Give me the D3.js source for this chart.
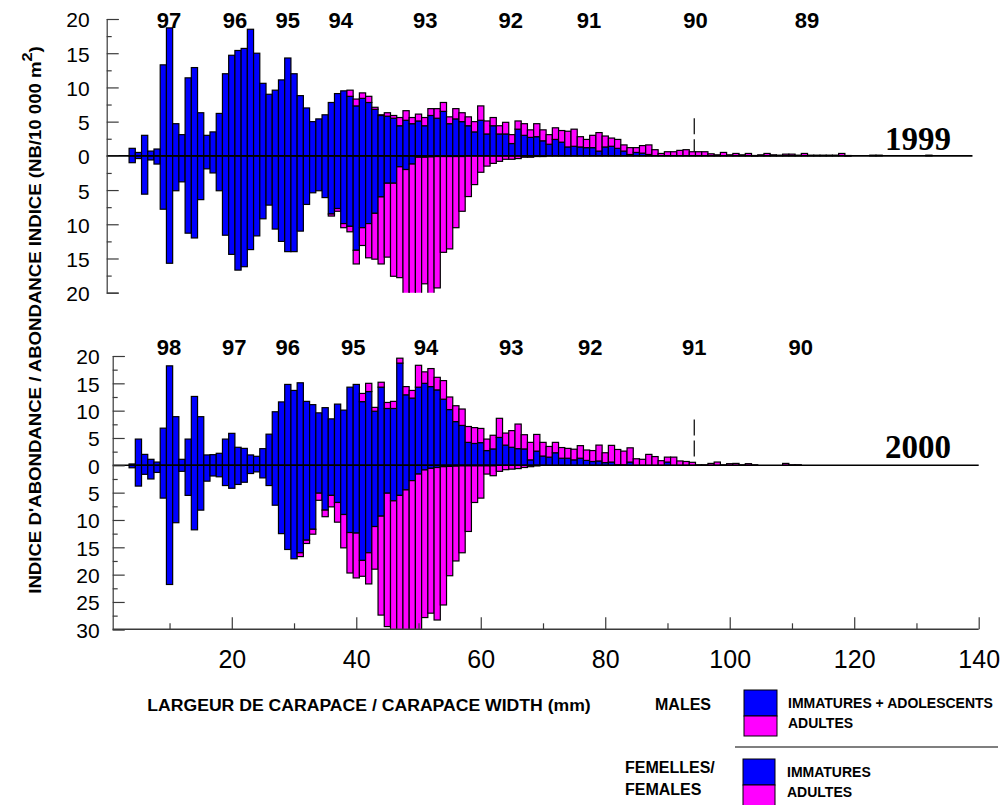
<!DOCTYPE html>
<html>
<head>
<meta charset="utf-8">
<script src="https://cdn.jsdelivr.net/npm/d3@7"></script>
<style>
  body { margin: 0; background: #fff; }
  svg { display: block; }
</style>
</head>
<body>
<svg id="chart" width="1004" height="805"></svg>
<script>
// Carapace width classes (mm), one bar per millimetre
const widths = d3.range(4, 133);

// ---- 1999 survey ----
const maleImm1999 = [
  1.1, 0.5, 3.0, 0.7, 1.0, 13.3, 18.7, 4.7, 3.1, 11.4,
  12.9, 6.3, 3.0, 3.5, 6.2, 12.0, 14.7, 15.4, 15.7, 18.5,
  15.0, 10.6, 9.0, 9.6, 11.1, 14.3, 12.0, 8.8, 7.0, 5.0,
  5.4, 6.0, 7.8, 9.1, 9.5, 8.7, 7.3, 8.4, 7.8, 6.8,
  5.9, 5.8, 5.5, 4.4, 5.2, 4.7, 5.1, 4.4, 5.9, 5.5,
  6.5, 4.7, 5.4, 5.0, 4.4, 3.5, 5.2, 3.2, 4.4, 3.2,
  3.2, 1.8, 3.9, 3.0, 2.7, 2.8, 2.2, 1.7, 2.4, 2.0,
  1.3, 1.4, 1.3, 1.2, 1.2, 0.7, 1.3, 1.4, 1.1, 0.7,
  0.2, 0.5, 0.4, 0.2, 0, 0, 0, 0, 0, 0,
  0, 0, 0, 0, 0, 0, 0, 0, 0, 0,
  0, 0, 0, 0, 0, 0, 0, 0, 0, 0,
  0, 0, 0, 0, 0, 0, 0, 0, 0, 0,
  0, 0, 0, 0, 0, 0, 0, 0, 0
];
const maleAdult1999 = [
  0, 0, 0, 0, 0, 0, 0, 0, 0, 0,
  0, 0, 0, 0, 0, 0, 0, 0, 0, 0,
  0, 0, 0, 0, 0, 0, 0, 0, 0, 0,
  0, 0, 0, 0, 0, 0.9, 1.0, 0.8, 0.9, 0.3,
  0.1, 0.5, 0.4, 1.2, 1.4, 0.9, 1.0, 1.2, 1.0, 1.4,
  1.3, 1.0, 1.5, 1.3, 1.3, 1.5, 2.1, 1.9, 1.2, 1.2,
  1.7, 1.3, 1.2, 1.7, 1.1, 1.9, 1.6, 1.4, 1.7, 1.7,
  2.3, 2.5, 1.5, 1.2, 1.8, 2.7, 1.6, 1.2, 1.3, 0.9,
  1.0, 0.7, 1.1, 1.4, 0.9, 0.35, 0.6, 0.6, 0.8, 0.9,
  0.6, 0.6, 0.6, 0.3, 0.15, 0.5, 0.15, 0.35, 0.15, 0.35,
  0.05, 0.15, 0.35, 0.15, 0.1, 0.25, 0.25, 0.1, 0.35, 0.1,
  0.1, 0.1, 0.1, 0.1, 0.35, 0.05, 0, 0, 0, 0.1,
  0.1, 0, 0, 0, 0, 0, 0, 0, 0.1
];
const femImm1999 = [
  1.0, 0.4, 5.6, 0.6, 1.2, 7.8, 15.7, 5.1, 3.8, 11.3,
  12.0, 6.4, 1.9, 2.5, 5.1, 11.6, 14.4, 16.7, 16.2, 13.7,
  11.7, 9.2, 7.2, 10.7, 12.5, 14.0, 14.0, 11.0, 7.1, 5.4,
  5.1, 6.1, 8.5, 7.7, 9.9, 10.3, 13.8, 10.5, 9.9, 8.4,
  6.0, 4.0, 4.0, 1.6, 2.0, 1.2, 0.2, 0.2, 0.15, 0.1,
  0.1, 0.1, 0.1, 0.1, 0, 0, 0, 0, 0, 0,
  0, 0, 0, 0, 0, 0, 0, 0, 0, 0,
  0, 0, 0, 0, 0, 0, 0, 0, 0, 0,
  0, 0, 0, 0, 0, 0, 0, 0, 0, 0,
  0, 0, 0, 0, 0, 0, 0, 0, 0, 0,
  0, 0, 0, 0, 0, 0, 0, 0, 0, 0,
  0, 0, 0, 0, 0, 0, 0, 0, 0, 0,
  0, 0, 0, 0, 0, 0, 0, 0, 0
];
const femAdult1999 = [
  0, 0, 0, 0, 0, 0, 0, 0, 0, 0,
  0, 0, 0, 0, 0, 0, 0, 0, 0, 0,
  0, 0, 0, 0, 0, 0, 0, 0, 0, 0,
  0, 0, 0.3, 0.4, 0.6, 0.8, 2.0, 2.6, 5.0, 6.7,
  9.8, 10.8, 13.6, 16.2, 19.5, 20.8, 21.5, 18.5, 21.0, 19.2,
  14.0, 13.5, 10.4, 8.0, 5.95, 4.2, 2.4, 1.5, 1.1, 0.8,
  0.5, 0.5, 0.4, 0.2, 0.2, 0.1, 0.1, 0, 0, 0,
  0, 0, 0, 0, 0, 0, 0, 0, 0, 0,
  0, 0, 0, 0, 0, 0, 0, 0, 0, 0,
  0, 0, 0, 0, 0, 0, 0, 0, 0, 0,
  0, 0, 0, 0, 0, 0, 0, 0, 0, 0,
  0, 0, 0, 0, 0, 0, 0, 0, 0, 0,
  0, 0, 0, 0, 0, 0, 0, 0, 0
];

// ---- 2000 survey ----
const maleImm2000 = [
  0.25, 4.8, 2.0, 1.1, 0.6, 6.8, 18.2, 8.9, 1.1, 4.8,
  12.6, 8.9, 1.9, 1.95, 2.2, 4.8, 5.85, 3.3, 3.1, 1.9,
  1.65, 3.05, 5.7, 9.8, 11.6, 14.8, 13.7, 15.1, 11.7, 11.1,
  9.6, 10.55, 8.5, 11.2, 10.1, 14.3, 14.8, 11.65, 13.5, 9.9,
  14.3, 10.4, 10.4, 18.7, 12.9, 12.3, 14.3, 15.0, 14.4, 13.8,
  12.1, 10.2, 8.0, 7.3, 4.2, 4.0, 4.15, 2.7, 3.0, 5.1,
  3.7, 3.3, 3.05, 3.0, 1.0, 2.6, 1.7, 1.5, 2.3, 1.3,
  1.3, 1.0, 1.3, 0.9, 0.7, 0.8, 0.5, 0.6, 0.1, 0.1,
  0.6, 0, 0, 0, 0, 0, 0.6, 0, 0, 0,
  0, 0, 0, 0, 0, 0, 0, 0, 0, 0,
  0, 0, 0, 0, 0, 0, 0, 0, 0, 0,
  0, 0, 0, 0, 0, 0, 0, 0, 0, 0,
  0, 0, 0, 0, 0, 0, 0, 0, 0
];
const maleAdult2000 = [
  0, 0, 0, 0, 0, 0, 0, 0, 0, 0,
  0, 0, 0, 0, 0, 0, 0, 0, 0, 0,
  0, 0, 0, 0, 0, 0, 0, 0, 0, 0,
  0, 0, 0, 0, 0, 0, 0, 1.5, 1.5, 0.7,
  0.9, 1.1, 1.3, 0.9, 1.5, 1.4, 4.0, 2.1, 3.3, 2.3,
  3.4, 2.3, 2.9, 3.0, 2.9, 2.9, 2.6, 2.1, 2.5, 3.5,
  2.2, 3.05, 4.5, 2.6, 3.2, 3.05, 2.5, 1.95, 1.9, 1.95,
  1.8, 1.95, 2.3, 1.9, 2.0, 2.9, 1.8, 3.05, 2.8, 2.5,
  2.6, 1.2, 1.1, 2.0, 1.6, 0.85, 0.9, 1.5, 0.8, 0.7,
  0.55, 0.1, 0.1, 0.35, 0.6, 0.1, 0.3, 0.35, 0.1, 0.3,
  0.1, 0, 0, 0, 0, 0.35, 0.1, 0.1, 0, 0,
  0, 0, 0, 0, 0, 0, 0, 0, 0, 0,
  0, 0, 0, 0, 0, 0, 0, 0, 0
];
const femImm2000 = [
  0.45, 3.8, 1.65, 2.5, 1.3, 6.0, 21.8, 10.5, 1.1, 5.5,
  11.8, 8.2, 2.9, 1.95, 2.1, 3.7, 4.2, 3.5, 3.1, 1.5,
  1.2, 2.3, 3.7, 7.3, 12.5, 15.4, 17.1, 16.0, 13.7, 11.7,
  5.1, 8.2, 5.5, 6.8, 9.0, 12.3, 12.4, 17.4, 16.0, 11.2,
  9.3, 5.1, 6.5, 5.5, 4.5, 2.8, 1.6, 0.85, 0.55, 0.4,
  0.25, 0.2, 0.15, 0.1, 0.1, 0.1, 0.1, 0.1, 0.1, 0,
  0, 0, 0, 0, 0, 0, 0, 0, 0, 0,
  0, 0, 0, 0, 0, 0, 0, 0, 0, 0,
  0, 0, 0, 0, 0, 0, 0, 0, 0, 0,
  0, 0, 0, 0, 0, 0, 0, 0, 0, 0,
  0, 0, 0, 0, 0, 0, 0, 0, 0, 0,
  0, 0, 0, 0, 0, 0, 0, 0, 0, 0,
  0, 0, 0, 0, 0, 0, 0, 0, 0
];
const femAdult2000 = [
  0, 0, 0, 0, 0, 0, 0, 0, 0, 0,
  0, 0, 0, 0, 0, 0, 0, 0, 0, 0,
  0, 0, 0, 0, 0, 0, 0, 0.7, 0.6, 0.9,
  1.3, 1.2, 2.1, 3.6, 6.1, 7.4, 8.2, 2.9, 5.7, 7.8,
  18.1, 24.4, 25.0, 26.5, 28.0, 29.0, 29.5, 27.0, 26.5, 27.9,
  25.3, 20.0, 17.35, 15.9, 12.0, 6.7, 5.9, 1.5, 1.8, 1.1,
  0.8, 0.7, 0.6, 0.4, 0.25, 0.1, 0, 0, 0, 0,
  0, 0, 0, 0, 0, 0, 0, 0, 0, 0,
  0, 0, 0, 0, 0, 0, 0, 0, 0, 0,
  0, 0, 0, 0, 0, 0, 0, 0, 0, 0,
  0, 0, 0, 0, 0, 0, 0, 0, 0, 0,
  0, 0, 0, 0, 0, 0, 0, 0, 0, 0,
  0, 0, 0, 0, 0, 0, 0, 0, 0
];

// Year-class (cohort) modes, labelled above each panel
const cohortLabels1999 = ["97", "96", "95", "94", "93", "92", "91", "90", "89"];
const cohortModes1999  = [9.9, 20.5, 29.0, 37.5, 51.1, 64.8, 77.4, 94.5, 112.4];
const cohortLabels2000 = ["98", "97", "96", "95", "94", "93", "92", "91", "90"];
const cohortModes2000  = [9.9, 20.4, 29.0, 39.5, 51.2, 64.9, 77.6, 94.3, 111.4];

// Legal-size marker (mm) and its vertical extent in each panel
const legalSize = 94.3;
const markerSpan1999 = [0.6, 5.5];
const markerSpan2000 = [1.4, 8.4];

const xTicks = [10, 20, 30, 40, 50, 60, 70, 80, 90, 100, 110, 120, 130, 140];

const BLUE = "#0000ff", PINK = "#ff00ff";
const SANS = "'Liberation Sans', Arial, Helvetica, sans-serif";
const SERIF = "'Liberation Serif', 'Times New Roman', serif";

const svg = d3.select("#chart");
const x = d3.scaleLinear().domain([0, 140]).range([107.3, 978.7]);

const panels = [
  {
    id: "p1999", year: "1999",
    mi: maleImm1999, ma: maleAdult1999, fi: femImm1999, fa: femAdult1999,
    y: d3.scaleLinear().domain([-20, 20]).range([292.7, 19]),
    axisX: 106.7, labelPad: 17, zeroEnd: 139,
    cohorts: cohortLabels1999, modes: cohortModes1999, cohortY: 28,
    yearY: 150, marker: markerSpan1999
  },
  {
    id: "p2000", year: "2000",
    mi: maleImm2000, ma: maleAdult2000, fi: femImm2000, fa: femAdult2000,
    y: d3.scaleLinear().domain([-30, 20]).range([629.3, 356]),
    axisX: 112.7, labelPad: 13, zeroEnd: 140,
    cohorts: cohortLabels2000, modes: cohortModes2000, cohortY: 355,
    yearY: 458, marker: markerSpan2000
  }
];

panels.forEach(p => {
  const y = p.y;
  const [yLo, yHi] = y.domain();
  const g = svg.append("g");

  // clip region so bars beyond the axis limits are cut off
  svg.append("clipPath").attr("id", "clip-" + p.id)
    .append("rect")
    .attr("x", p.axisX).attr("y", y(yHi))
    .attr("width", x(140) - p.axisX).attr("height", y(yLo) - y(yHi));

  // stacked segments: males above zero, females below
  const segs = [];
  widths.forEach((w, i) => {
    const mi = p.mi[i], ma = p.ma[i], fi = p.fi[i], fa = p.fa[i];
    if (mi > 0) segs.push({ w, v0: 0, v1: mi, c: BLUE });
    if (ma > 0) segs.push({ w, v0: mi, v1: mi + ma, c: PINK });
    if (fi > 0) segs.push({ w, v0: -fi, v1: 0, c: BLUE });
    if (fa > 0) segs.push({ w, v0: -(fi + fa), v1: -fi, c: PINK });
  });

  g.append("g").attr("clip-path", `url(#clip-${p.id})`)
    .selectAll("rect").data(segs).join("rect")
    .attr("x", d => x(d.w - 0.5))
    .attr("width", d => x(d.w + 0.5) - x(d.w - 0.5))
    .attr("y", d => y(d.v1))
    .attr("height", d => Math.max(0.6, y(d.v0) - y(d.v1)))
    .attr("fill", d => d.c)
    .attr("stroke", "#000")
    .attr("stroke-width", 1.2);

  // zero line
  g.append("line")
    .attr("x1", p.axisX).attr("x2", x(p.zeroEnd))
    .attr("y1", y(0)).attr("y2", y(0))
    .attr("stroke", "#000").attr("stroke-width", 1.6);

  // legal-size dashed marker
  g.append("line")
    .attr("x1", x(legalSize)).attr("x2", x(legalSize))
    .attr("y1", y(p.marker[1])).attr("y2", y(p.marker[0]))
    .attr("stroke", "#000").attr("stroke-width", 1.2)
    .attr("stroke-dasharray", "16,5");

  // left axis: minor ticks every 2.5, labelled major ticks every 5
  const minor = d3.range(yLo, yHi + 0.01, 2.5).filter(v => v % 5 !== 0);
  const major = d3.range(yLo, yHi + 0.01, 5);
  const ax = g.append("g").attr("transform", `translate(${p.axisX},0)`);
  ax.call(d3.axisLeft(y).tickValues(minor).tickSize(-5).tickSizeOuter(-12).tickFormat(""));
  ax.append("g").call(d3.axisLeft(y).tickValues(major).tickSize(-12).tickSizeOuter(-12)
      .tickPadding(p.labelPad).tickFormat(d => Math.abs(d)))
    .call(a => a.select(".domain").remove());
  ax.selectAll("path,line").attr("stroke", "#3a3a3a").attr("stroke-width", 1.2);
  ax.selectAll("text")
    .attr("font-family", SANS).attr("font-size", 21).attr("fill", "#000")
    .attr("dy", "0.38em");

  // cohort labels
  g.selectAll("text.cohort").data(p.cohorts).join("text")
    .attr("class", "cohort")
    .attr("x", (d, i) => x(p.modes[i]))
    .attr("y", p.cohortY)
    .attr("text-anchor", "middle")
    .attr("font-family", SANS).attr("font-weight", "bold").attr("font-size", 22)
    .text(d => d);

  // survey year
  g.append("text")
    .attr("x", 951).attr("y", p.yearY)
    .attr("text-anchor", "end")
    .attr("font-family", SERIF).attr("font-weight", "bold").attr("font-size", 33)
    .text(p.year);
});

// bottom x axis (shared width scale)
const yBottom = panels[1].y(-30);
const xAxisG = svg.append("g").attr("transform", `translate(0,${yBottom})`);
xAxisG.call(d3.axisBottom(x).tickValues(xTicks)
    .tickSize(0).tickPadding(21)
    .tickFormat(d => d % 20 === 0 ? d : ""));
xAxisG.select(".domain").remove();
xAxisG.selectAll(".tick line")
  .attr("y2", d => d % 20 === 0 ? -12 : -6)
  .attr("stroke", "#3a3a3a").attr("stroke-width", 1.2);
xAxisG.selectAll("text")
  .attr("font-family", SANS).attr("font-size", 25).attr("fill", "#000");
xAxisG.append("line")
  .attr("x1", panels[1].axisX).attr("x2", x(140))
  .attr("y1", 0).attr("y2", 0)
  .attr("stroke", "#3a3a3a").attr("stroke-width", 1.4);

// horizontal stretch factor that brings a text node to a given length
function stretchTo(sel, len) {
  const w = sel.node().getBBox().width;
  return w > 0 ? len / w : 1;
}

// x axis title
const xTitle = svg.append("g");
const xt = xTitle.append("text")
  .attr("text-anchor", "middle")
  .attr("font-family", SANS).attr("font-weight", "bold").attr("font-size", 17)
  .text("LARGEUR DE CARAPACE / CARAPACE WIDTH (mm)");
xTitle.attr("transform", `translate(369,711) scale(${stretchTo(xt, 444)},1)`);

// y axis title (rotated, with squared metre superscript)
const yTitle = svg.append("g");
const yt = yTitle.append("text")
  .attr("text-anchor", "middle")
  .attr("font-family", SANS).attr("font-weight", "bold").attr("font-size", 16);
yt.append("tspan").text("INDICE D'ABONDANCE / ABONDANCE INDICE (NB/10 000 m");
yt.append("tspan").attr("dy", -9).attr("font-size", 14).text("2");
yt.append("tspan").attr("dy", 9).text(")");
yTitle.attr("transform", `translate(41,320) rotate(-90) scale(${stretchTo(yt, 548)},1)`);

// legend
const lg = svg.append("g").attr("font-family", SANS).attr("font-weight", "bold");
lg.append("text").attr("x", 655).attr("y", 710).attr("font-size", 16).text("MALES");
lg.append("rect").attr("x", 744).attr("y", 690).attr("width", 33).attr("height", 26)
  .attr("fill", BLUE).attr("stroke", "#000");
lg.append("rect").attr("x", 744).attr("y", 716).attr("width", 33).attr("height", 20)
  .attr("fill", PINK).attr("stroke", "#000");
lg.append("text").attr("x", 788).attr("y", 708).attr("font-size", 14).text("IMMATURES + ADOLESCENTS");
lg.append("text").attr("x", 788).attr("y", 728).attr("font-size", 14).text("ADULTES");
lg.append("line").attr("x1", 735).attr("x2", 998).attr("y1", 747).attr("y2", 747)
  .attr("stroke", "#000").attr("stroke-width", 1.2);
lg.append("text").attr("x", 625).attr("y", 773).attr("font-size", 16).text("FEMELLES/");
lg.append("text").attr("x", 625).attr("y", 795).attr("font-size", 16).text("FEMALES");
lg.append("rect").attr("x", 743).attr("y", 759).attr("width", 32).attr("height", 26)
  .attr("fill", BLUE).attr("stroke", "#000");
lg.append("rect").attr("x", 743).attr("y", 785).attr("width", 32).attr("height", 22)
  .attr("fill", PINK).attr("stroke", "#000");
lg.append("text").attr("x", 787).attr("y", 777).attr("font-size", 14).text("IMMATURES");
lg.append("text").attr("x", 787).attr("y", 797).attr("font-size", 14).text("ADULTES");
</script>
</body>
</html>
